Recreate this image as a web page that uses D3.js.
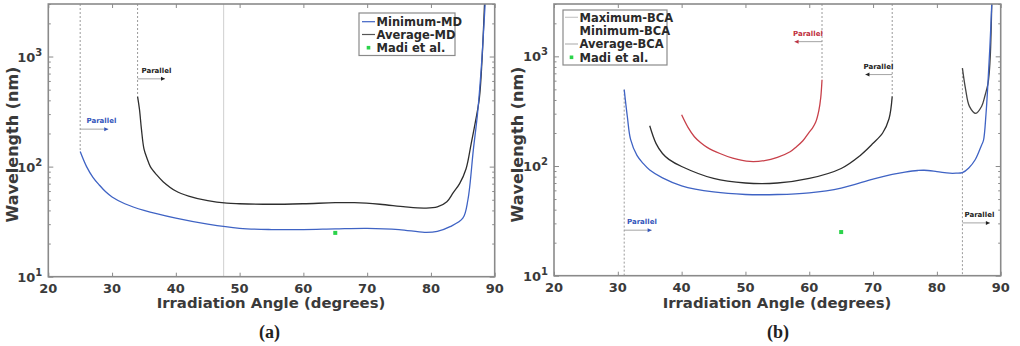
<!DOCTYPE html>
<html><head><meta charset="utf-8">
<script src="https://cdn.jsdelivr.net/npm/d3@7"></script>
<style>body{margin:0;background:#fff} svg{display:block}</style>
</head><body>
<svg id="c" width="1020" height="346"></svg>
<script>
// ---------- data ----------
const xTicks = [20,30,40,50,60,70,80,90];
const yTicks = [10,100,1000];
const xDomain = [20,90];
const yDomain = [10,3000];

// Panel (a)
const minMD_x = [25,26,27,28,29,30,32,35,40,45,50,55,60,65,70,75,79,81,83,85,85.8,86.65,87.3,87.9,88.5];
const minMD_y = [137,100,80,68,59,53,46,40,34,30,27.5,26.8,26.8,27.2,27.5,26.8,25.3,25.8,28.5,34,50,142,300,800,3000];
const avgMD_x = [34,34.3,34.6,35,35.5,36,37,38,40,42,45,48,50,55,60,65,68,72,76,79,81,82.5,83.5,84.5,85.5,86.3,87,87.6,88,88.4];
const avgMD_y = [433,330,220,145,118,100,84,73,60,54,49,46.5,46,45.5,46,47,47,45.5,43,42,43,48,58,70,95,160,260,420,900,3000];

// Panel (b)
const maxBCA_x = [40,41,42,43,44,46,48,50.7,53,55,57,58,59,60,60.5,61,61.5,61.8,62];
const maxBCA_y = [293,225,185,163,148,130,118,110,112,120,135,150,170,204,222,250,320,420,612];
const avgBCA_x = [35,36,37,38,40,45,50,55,60,65,68,70,71.5,72.5,73];
const avgBCA_y = [233,160,130,115,99,77,70,70,77,95,125,161,200,270,431];
const avgBCA2_x = [84,84.5,85.1,86.1,87,87.5,88,88.2,88.4,88.6];
const avgBCA2_y = [780,500,350,302,349,430,560,700,1100,3000];
const minBCA_x = [31,31.5,32,33,34,35,37,40,45,50,55,60,65,70,73,75,77,78,80,82,83,84,85,86,87,87.3,87.7,88,88.3,88.6];
const minBCA_y = [497,280,175,125,105,92,78,66,58,55,55,57,63,76,84,88,91,91.5,89,86,86,87,96,114,155,171,300,570,1200,3000];

const madi_x = [65];
const madi_y = [25];

const legendA = ["Minimum-MD","Average-MD","Madi et al."];
const legendB = ["Maximum-BCA","Minimum-BCA","Average-BCA","Madi et al."];

// ---------- drawing ----------
const svg = d3.select("#c");
const BLUE = "#3f63c4", BLACK = "#2e2e2e", RED = "#c8404a", GREEN = "#2bd34a";
const FRAME = "#8a8a8a";

function panel(id, x0, x1, yTop, yBot) {
  const x = d3.scaleLinear().domain(xDomain).range([x0, x1]);
  const y = d3.scaleLog().domain(yDomain).range([yBot, yTop]);
  const g = svg.append("g");
  g.append("clipPath").attr("id", "clip" + id).append("rect")
    .attr("x", x0).attr("y", yTop).attr("width", x1 - x0).attr("height", yBot - yTop);
  const plot = g.append("g").attr("clip-path", `url(#clip${id})`);

  const minor = [];
  for (let k = 10; k < 3000; k *= 10) for (let m = 2; m <= 9; m++) if (k*m <= 3000) minor.push(k*m);
  const axB = g.append("g").attr("transform", `translate(0,${yBot})`)
    .call(d3.axisBottom(x).tickValues(xTicks).tickSize(-4).tickFormat(""));
  const axT = g.append("g").attr("transform", `translate(0,${yTop})`)
    .call(d3.axisTop(x).tickValues(xTicks).tickSize(-4).tickFormat(""));
  const axL = g.append("g").attr("transform", `translate(${x0},0)`)
    .call(d3.axisLeft(y).tickValues(yTicks).tickSize(-5).tickFormat(""));
  const axR = g.append("g").attr("transform", `translate(${x1},0)`)
    .call(d3.axisRight(y).tickValues(yTicks).tickSize(-5).tickFormat(""));
  const axLm = g.append("g").attr("transform", `translate(${x0},0)`)
    .call(d3.axisLeft(y).tickValues(minor).tickSize(-2.5).tickFormat(""));
  const axRm = g.append("g").attr("transform", `translate(${x1},0)`)
    .call(d3.axisRight(y).tickValues(minor).tickSize(-2.5).tickFormat(""));
  [axB, axT, axL, axR, axLm, axRm].forEach(a => {
    a.select(".domain").remove();
    a.selectAll("line").attr("stroke", FRAME).attr("stroke-width", 1);
  });
  g.append("rect").attr("x", x0).attr("y", yTop).attr("width", x1 - x0).attr("height", yBot - yTop)
    .attr("fill", "none").attr("stroke", FRAME).attr("stroke-width", 1.6);

  g.selectAll(".xt").data(xTicks).enter().append("text")
    .attr("x", d => x(d)).attr("y", yBot + 16).attr("text-anchor", "middle")
    .attr("font-family", "DejaVu Sans").attr("font-weight", "bold").attr("font-size", 13)
    .attr("fill", "#3a3a3a").text(d => d);
  yTicks.forEach((v) => {
    const t = g.append("text").attr("x", x0 - 6).attr("y", y(v) + 5)
      .attr("text-anchor", "end").attr("font-family", "DejaVu Sans").attr("font-weight", "bold")
      .attr("font-size", 13).attr("fill", "#3a3a3a");
    t.append("tspan").text("10");
    t.append("tspan").attr("dy", -6).attr("font-size", 10).text(Math.round(Math.log10(v)));
  });
  return {g, plot, x, y};
}

function fitText(t, target) {
  const w = t.node().getComputedTextLength();
  const fs = +t.attr("font-size");
  t.attr("font-size", fs * target / w);
}

function curve(p, xs, ys, color, w) {
  const pts = xs.map((v, i) => [v, ys[i]]);
  p.plot.append("path").datum(pts)
    .attr("d", d3.line().x(d => p.x(d[0])).y(d => p.y(d[1])).curve(d3.curveCatmullRom.alpha(0.5)))
    .attr("fill", "none").attr("stroke", color).attr("stroke-width", w || 1.3)
    .attr("stroke-linejoin", "round");
}

function vline(p, xv, v0, v1, dashed, color) {
  p.plot.append("line").attr("x1", p.x(xv)).attr("x2", p.x(xv))
    .attr("y1", p.y(v0)).attr("y2", p.y(v1))
    .attr("stroke", color || "#9a9a9a").attr("stroke-width", 1)
    .attr("stroke-dasharray", dashed ? "2,2" : null);
}

function parallel(p, xStart, xEnd, yv, color, textX) {
  const ax0 = p.x(xStart), ax1 = p.x(xEnd), ay = p.y(yv);
  p.g.append("line").attr("x1", ax0).attr("x2", ax1).attr("y1", ay).attr("y2", ay)
    .attr("stroke", "#9a9a9a").attr("stroke-width", 0.9);
  const dir = Math.sign(ax1 - ax0);
  p.g.append("path")
    .attr("d", `M${ax1},${ay} L${ax1 - dir*4},${ay - 2} L${ax1 - dir*4},${ay + 2} Z`)
    .attr("fill", color);
  p.g.append("text").attr("x", textX).attr("y", ay - 6)
    .attr("font-family", "DejaVu Sans").attr("font-weight", "bold").attr("font-size", 7)
    .attr("fill", color).text("Parallel");
}

function madi(p) {
  p.plot.selectAll(".m").data(madi_x).enter().append("rect")
    .attr("x", (d) => p.x(d) - 2).attr("y", (d, i) => p.y(madi_y[i]) - 2)
    .attr("width", 4).attr("height", 4).attr("fill", GREEN);
}

function labels(p, cx, cyLabel, capX, capText, yLabX) {
  const xl = p.g.append("text").attr("x", cx).attr("y", 308).attr("text-anchor", "middle")
    .attr("font-family", "DejaVu Sans").attr("font-weight", "bold").attr("font-size", 15)
    .attr("fill", "#3a3a3a").text("Irradiation Angle (degrees)");
  fitText(xl, 229);
  const yl = p.g.append("text").attr("transform", `translate(${yLabX},${cyLabel}) rotate(-90)`)
    .attr("text-anchor", "middle").attr("font-family", "DejaVu Sans").attr("font-weight", "bold")
    .attr("font-size", 15).attr("fill", "#3a3a3a").text("Wavelength (nm)");
  fitText(yl, 156);
  p.g.append("text").attr("x", capX).attr("y", 338).attr("text-anchor", "middle")
    .attr("font-family", "Liberation Serif").attr("font-weight", "bold").attr("font-size", 18)
    .attr("fill", "#222").text(capText);
}

function legend(p, bx, by, bw, bh, rows, entries, lx0, lx1, tx) {
  p.g.append("rect").attr("x", bx).attr("y", by).attr("width", bw).attr("height", bh)
    .attr("fill", "#fff").attr("stroke", FRAME).attr("stroke-width", 1.2);
  entries.forEach((e, i) => {
    const yy = rows[i];
    if (e.type === "line") {
      p.g.append("line").attr("x1", lx0).attr("x2", lx1).attr("y1", yy).attr("y2", yy)
        .attr("stroke", e.color).attr("stroke-width", 1.2);
    } else {
      p.g.append("rect").attr("x", (lx0 + lx1) / 2 - 1.8).attr("y", yy - 1.8)
        .attr("width", 3.6).attr("height", 3.6).attr("fill", GREEN);
    }
    p.g.append("text").attr("x", tx).attr("y", yy + 4.2)
      .attr("font-family", "DejaVu Sans").attr("font-weight", "bold").attr("font-size", 11.5)
      .attr("fill", "#2a2a2a").text(e.label);
  });
}

// ---- Panel (a)
const A = panel("a", 48.3, 494.7, 4, 276.7);
vline(A, 47.5, 10, 3000, false, "#cfcfcf");
vline(A, 25, 3000, minMD_y[0], true);
vline(A, 34, 3000, avgMD_y[0], true);
curve(A, avgMD_x, avgMD_y, BLACK);
curve(A, minMD_x, minMD_y, BLUE);
madi(A);
parallel(A, 25, 29.4, 219, "#3355bb", 86.5);
parallel(A, 34, 38.3, 627, "#222", 141.5);
legend(A, 359, 13, 96, 42.5, [21.7, 34.5, 47.7],
  [{type:"line", color:BLUE, label:legendA[0]},
   {type:"line", color:"#555", label:legendA[1]},
   {type:"dot", label:legendA[2]}], 362, 375, 376.5);
labels(A, 271, 144.5, 269.5, "(a)", 18);

// ---- Panel (b)
const B = panel("b", 554, 1000.7, 4, 275.7);
vline(B, 31, minBCA_y[0], 10, true);
vline(B, 62, 3000, maxBCA_y[maxBCA_y.length - 1], true);
vline(B, 73, 3000, avgBCA_y[avgBCA_y.length - 1], true);
vline(B, 84, avgBCA2_y[0], 10, true);
curve(B, maxBCA_x, maxBCA_y, RED);
curve(B, avgBCA_x, avgBCA_y, BLACK);
curve(B, avgBCA2_x, avgBCA2_y, "#444");
curve(B, minBCA_x, minBCA_y, BLUE);
madi(B);
parallel(B, 62, 57.7, 1361, "#c03040", 793);
parallel(B, 73, 68.8, 682, "#222", 863.5);
parallel(B, 31, 35.3, 26, "#3355bb", 627);
parallel(B, 84, 88.3, 30.3, "#222", 964.5);
legend(B, 563, 10, 104, 55, [17.3, 31, 44, 57.3],
  [{type:"line", color:"#c8c8c8", label:legendB[0]},
   {type:"line", color:"#ffffff", label:legendB[1]},
   {type:"line", color:"#b5b5b5", label:legendB[2]},
   {type:"dot", label:legendB[3]}], 565, 578, 579.5);
labels(B, 777, 144.5, 778, "(b)", 523);
</script>
</body></html>
